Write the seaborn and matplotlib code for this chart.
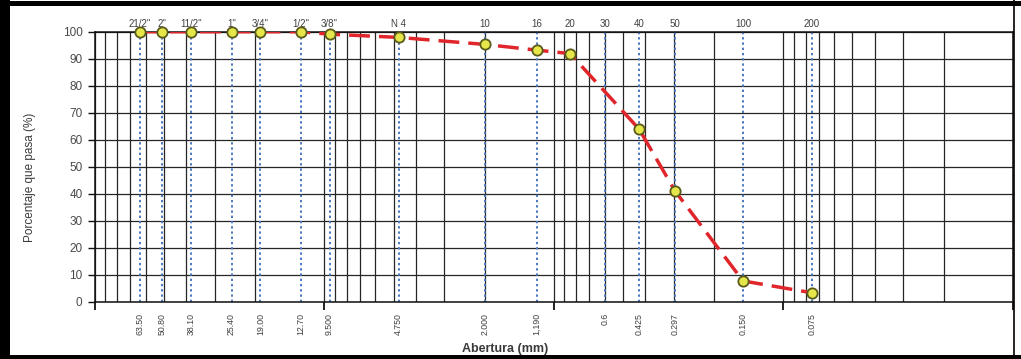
import matplotlib
matplotlib.use("Agg")
import matplotlib.pyplot as plt
import numpy as np
import pandas as pd
import seaborn as sns
from matplotlib.lines import Line2D
from matplotlib.ticker import LogLocator, NullLocator, NullFormatter

# Curva granulométrica: abertura del tamiz (mm) vs porcentaje que pasa
abertura_mm = [63.5, 50.8, 38.1, 25.4, 19.0, 12.7, 9.5, 4.75, 2.0, 1.19, 0.85,
               0.425, 0.297, 0.150, 0.075]
pasa_pct = [100, 100, 100, 100, 100, 100, 99.1, 97.9, 95.3, 93.2, 91.9,
            63.9, 41.1, 7.7, 3.3]

# Serie de tamices (eje superior)
tamiz_mm = [63.5, 50.8, 38.1, 25.4, 19.0, 12.7, 9.5, 4.75, 2.0, 1.19, 0.85,
            0.6, 0.425, 0.297, 0.150, 0.075]
tamiz_nombre = ['21/2"', '2"', '11/2"', '1"', '3/4"', '1/2"', '3/8"', 'N 4',
                '10', '16', '20', '30', '40', '50', '100', '200']

# Aberturas rotuladas en el eje inferior
abertura_ticks = [63.5, 50.8, 38.1, 25.4, 19.0, 12.7, 9.5, 4.75, 2.0, 1.19,
                  0.6, 0.425, 0.297, 0.150, 0.075]
abertura_labels = ["63.50", "50.80", "38.10", "25.40", "19.00", "12.70",
                   "9.500", "4.750", "2.000", "1,190", "0.6", "0.425",
                   "0.297", "0.150", "0.075"]

y_ticks = list(range(0, 101, 10))

sns.set_style("white")
plt.rcParams["font.family"] = ["Liberation Sans", "DejaVu Sans"]

fig = plt.figure(figsize=(10.21, 3.59), dpi=100)
ax = fig.add_axes([0.093, 0.1596, 0.899, 0.752])

ax.set_xscale("log")
ax.set_xlim(100, 0.01)
ax.set_ylim(0, 100)

# Cuadrícula logarítmica
ax.xaxis.set_major_locator(LogLocator(base=10))
ax.xaxis.set_major_formatter(NullFormatter())
ax.xaxis.set_minor_locator(LogLocator(base=10, subs=np.arange(2, 10)))
ax.xaxis.set_minor_formatter(NullFormatter())
ax.grid(True, which="both", axis="x", color="#262626", lw=0.9)
ax.grid(True, which="major", axis="y", color="#262626", lw=0.9)
ax.tick_params(axis="x", which="major", direction="out", length=6, width=1.3,
               color="#111111", bottom=True, top=False)
ax.tick_params(axis="x", which="minor", length=0)

ax.set_yticks(y_ticks)
ax.tick_params(axis="y", direction="out", length=5, width=1, color="#111111",
               labelsize=8.5, labelcolor="#4a4a4a", pad=4, left=True)

for s in ax.spines.values():
    s.set_color("#111111")
    s.set_linewidth(1.1)

# Líneas punteadas de cada tamiz
ax.vlines(abertura_ticks, 0, 100, colors="#4a78c0", linestyles=(0, (1.2, 1.5)),
          lw=1.4, zorder=2)

df = pd.DataFrame({"abertura": abertura_mm, "pasa": pasa_pct})
sns.lineplot(data=df, x="abertura", y="pasa", ax=ax, sort=False, estimator=None,
             color="#e0262b", lw=2.5, linestyle=(0, (6, 2.6)), zorder=4)
sns.scatterplot(data=df, x="abertura", y="pasa", ax=ax, s=55, color="#e4e64a",
                edgecolor="#5a5a1c", linewidth=1.3, zorder=5, clip_on=False)

# Rótulos de abertura (inferior)
bot = ax.secondary_xaxis("bottom")
bot.xaxis.set_minor_locator(NullLocator())
bot.set_xticks(abertura_ticks, abertura_labels, rotation=90)
bot.tick_params(length=0, pad=8, labelsize=6.3, labelcolor="#404040")
for s in bot.spines.values():
    s.set_visible(False)

# Rótulos de tamiz (superior)
top = ax.secondary_xaxis("top")
top.xaxis.set_minor_locator(NullLocator())
top.set_xticks(tamiz_mm, tamiz_nombre)
top.tick_params(length=0, pad=2, labelsize=7, labelcolor="#404040")
for s in top.spines.values():
    s.set_visible(False)

ax.set_xlabel("Abertura (mm)", fontsize=9, fontweight="bold", color="#3a3a3a")
ax.xaxis.set_label_coords(0.4466, -0.153)
ax.set_ylabel("Porcentaje que pasa (%)", fontsize=8.5, color="#3a3a3a")
ax.yaxis.set_label_coords(-0.064, 0.46)

# Marco exterior
W, H = 1021, 359
fig.add_artist(Line2D([5 / W, 5 / W], [0, 1], transform=fig.transFigure,
                      color="black", lw=7.2))
fig.add_artist(Line2D([0, 1], [1 - 2.5 / H, 1 - 2.5 / H], transform=fig.transFigure,
                      color="black", lw=3.6))
fig.add_artist(Line2D([0, 1], [2.5 / H, 2.5 / H], transform=fig.transFigure,
                      color="black", lw=3.6))
fig.add_artist(Line2D([1013.5 / W, 1013.5 / W], [0, 1], transform=fig.transFigure,
                      color="black", lw=1.2))

fig.savefig("out.png", dpi=100, facecolor="white")
